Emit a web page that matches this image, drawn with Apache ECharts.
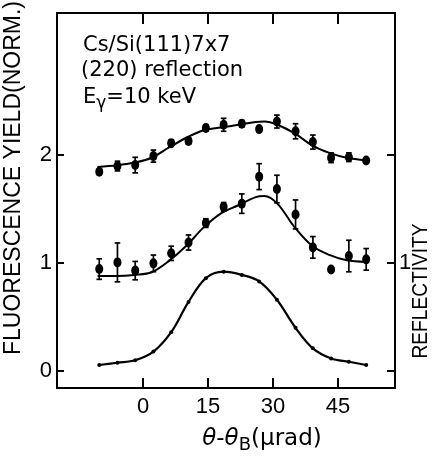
<!DOCTYPE html>
<html><head><meta charset="utf-8">
<script src="https://cdn.jsdelivr.net/npm/echarts@6/dist/echarts.min.js"></script>
<style>html,body{margin:0;padding:0;background:#fff}#c{width:432px;height:457px}</style>
</head><body><div id="c"></div>
<script>
// ---- data ----
const theta = [-10.1, -5.9, -1.8, 2.4, 6.5, 10.5, 14.5, 18.6, 22.8, 26.8, 30.9, 35.2, 39.2, 43.4, 47.5, 51.5];
const fluorTop    = [1.845, 1.898, 1.907, 1.99, 2.11, 2.13, 2.25, 2.28, 2.29, 2.24, 2.31, 2.22, 2.12, 1.975, 1.98, 1.95];
const fluorTopErr = [0, 0.045, 0.072, 0.056, 0.03, 0.03, 0.03, 0.06, 0.03, 0, 0.06, 0.07, 0.065, 0.045, 0.04, 0];
const fluorMid    = [0.944, 1.006, 0.93, 0.997, 1.09, 1.19, 1.37, 1.52, 1.55, 1.80, 1.685, 1.45, 1.145, 0.94, 1.065, 1.034];
const fluorMidErr = [0.095, 0.18, 0.085, 0.077, 0.066, 0.07, 0.04, 0.04, 0.09, 0.12, 0.128, 0.134, 0.10, 0, 0.146, 0.10];
const fitTheta = [-10.5, -6, -2, 2, 6, 10, 14, 18, 22, 26, 28, 31, 35, 39, 43, 47, 51.5];
const fitTop   = [1.89, 1.905, 1.93, 1.975, 2.07, 2.16, 2.23, 2.255, 2.28, 2.305, 2.31, 2.28, 2.20, 2.09, 2.02, 1.975, 1.95];
const fitMid   = [0.88, 0.88, 0.89, 0.915, 1.02, 1.16, 1.33, 1.46, 1.535, 1.61, 1.62, 1.55, 1.33, 1.16, 1.075, 1.025, 1.01];
const reflectivity = [0.056, 0.077, 0.10, 0.18, 0.36, 0.64, 0.86, 0.92, 0.89, 0.83, 0.66, 0.40, 0.21, 0.117, 0.086, 0.056];
const xTickValues = [0, 15, 30, 45];
const yLeftTicks = [0, 1, 2];
const yRightTicks = [0, 1, 2];
const yRightLabels = [1];

const FONT = 'Liberation Sans';
const chart = echarts.init(document.getElementById('c'), null, {renderer: 'canvas'});

function pts(xs, ys) { return xs.map((x, i) => [x, ys[i]]); }

function errSeries(vals, errs) {
  const data = [];
  theta.forEach((t, i) => { if (errs[i] > 0) data.push([t, vals[i] - errs[i], vals[i] + errs[i]]); });
  return {
    type: 'custom', xAxisIndex: 0, yAxisIndex: 0, data: data, z: 3, silent: true,
    renderItem: function (params, api) {
      const x = api.value(0);
      const lo = api.coord([x, api.value(1)]);
      const hi = api.coord([x, api.value(2)]);
      const w = 2.8;
      const st = {stroke: '#000', lineWidth: 1.7};
      return {type: 'group', children: [
        {type: 'line', shape: {x1: lo[0], y1: lo[1], x2: hi[0], y2: hi[1]}, style: st},
        {type: 'line', shape: {x1: lo[0] - w, y1: lo[1], x2: lo[0] + w, y2: lo[1]}, style: st},
        {type: 'line', shape: {x1: hi[0] - w, y1: hi[1], x2: hi[0] + w, y2: hi[1]}, style: st}
      ]};
    }
  };
}

const xMin = -19.85, xMax = 58.15, yMin = -0.157, yMax = 3.315;
const axisLineStyle = {color: '#000', width: 2};

const option = {
  animation: false,
  backgroundColor: '#fff',
  grid: {left: 57, right: 37, top: 13, bottom: 69, show: false},
  xAxis: [
    {type: 'value', position: 'bottom', min: xMin, max: xMax,
     axisLine: {show: true, onZero: false, lineStyle: axisLineStyle},
     axisTick: {show: true, inside: true, length: 10, customValues: xTickValues, lineStyle: {color: '#000', width: 2}},
     axisLabel: {show: true, customValues: xTickValues, color: '#000', fontSize: 22, fontFamily: FONT, margin: 8},
     splitLine: {show: false}},
    {type: 'value', position: 'top', min: xMin, max: xMax,
     axisLine: {show: true, onZero: false, lineStyle: axisLineStyle},
     axisTick: {show: true, inside: true, length: 11, customValues: xTickValues, lineStyle: {color: '#000', width: 2}},
     axisLabel: {show: false},
     splitLine: {show: false}}
  ],
  yAxis: [
    {type: 'value', position: 'left', min: yMin, max: yMax,
     axisLine: {show: true, onZero: false, lineStyle: axisLineStyle},
     axisTick: {show: true, inside: true, length: 7, customValues: yLeftTicks, lineStyle: {color: '#000', width: 2}},
     axisLabel: {show: true, customValues: yLeftTicks, color: '#000', fontSize: 22, fontFamily: FONT, margin: 5},
     splitLine: {show: false}},
    {type: 'value', position: 'right', min: yMin, max: yMax,
     axisLine: {show: true, onZero: false, lineStyle: axisLineStyle},
     axisTick: {show: true, inside: true, length: 8, customValues: yRightTicks, lineStyle: {color: '#000', width: 2}},
     axisLabel: {show: true, customValues: yRightLabels, color: '#000', fontSize: 22, fontFamily: FONT, margin: 4},
     splitLine: {show: false}}
  ],
  series: [
    {type: 'line', data: pts(fitTheta, fitTop), smooth: 0.35, showSymbol: false, symbol: 'none',
     lineStyle: {color: '#000', width: 2}, z: 2, silent: true},
    {type: 'line', data: pts(fitTheta, fitMid), smooth: 0.35, showSymbol: false, symbol: 'none',
     lineStyle: {color: '#000', width: 2}, z: 2, silent: true},
    {type: 'line', yAxisIndex: 1, data: pts(theta, reflectivity), smooth: 0.35,
     symbol: 'circle', symbolSize: 4, showSymbol: true, itemStyle: {color: '#000', opacity: 1},
     lineStyle: {color: '#000', width: 2.2}, z: 2, silent: true},
    errSeries(fluorTop, fluorTopErr),
    errSeries(fluorMid, fluorMidErr),
    {type: 'scatter', data: pts(theta, fluorTop), symbol: 'circle', symbolSize: [8, 10],
     itemStyle: {color: '#000', opacity: 1}, z: 4, silent: true},
    {type: 'scatter', data: pts(theta, fluorMid), symbol: 'circle', symbolSize: [8, 10],
     itemStyle: {color: '#000', opacity: 1}, z: 4, silent: true}
  ],
  graphic: [
    {type: 'text', x: 83, y: 46, style: {text: 'Cs/Si(111)7x7', fontSize: 21, fontFamily: 'DejaVu Sans', fill: '#000', verticalAlign: 'middle'}},
    {type: 'text', x: 81, y: 71, style: {text: '(220) reflection', fontSize: 21, fontFamily: 'DejaVu Sans', fill: '#000', verticalAlign: 'middle'}},
    {type: 'text', x: 83, y: 98, style: {
      text: '{n|E}{s|γ}{n|=10 keV}', fontFamily: 'DejaVu Sans', fill: '#000', verticalAlign: 'middle',
      rich: {n: {fontSize: 21, fontFamily: 'DejaVu Sans', fill: '#000'},
             s: {fontSize: 17, fontFamily: 'DejaVu Sans', fill: '#000', padding: [12, 0, 0, 0]}}}},
    {type: 'text', x: 14, y: 178, rotation: Math.PI / 2, style: {
      text: 'FLUORESCENCE YIELD(NORM.)', fontSize: 23, fontFamily: FONT, fill: '#000', align: 'center', verticalAlign: 'middle'}},
    {type: 'text', x: 421, y: 291, rotation: Math.PI / 2, scaleX: 0.87, style: {
      text: 'REFLECTIVITY', fontSize: 22, fontFamily: FONT, fill: '#000', align: 'center', verticalAlign: 'middle'}},
    {type: 'text', x: 262, y: 439, style: {
      text: '{i|θ}{n|-}{i|θ}{s|B}{n|(μrad)}', fill: '#000', align: 'center', verticalAlign: 'middle',
      rich: {i: {fontSize: 23, fontFamily: 'DejaVu Sans', fontStyle: 'italic', fill: '#000'},
             n: {fontSize: 23, fontFamily: 'DejaVu Sans', fill: '#000'},
             s: {fontSize: 18, fontFamily: 'DejaVu Sans', fill: '#000', padding: [12, 0, 0, 0]}}}}
  ]
};
chart.setOption(option);
</script>
</body></html>
